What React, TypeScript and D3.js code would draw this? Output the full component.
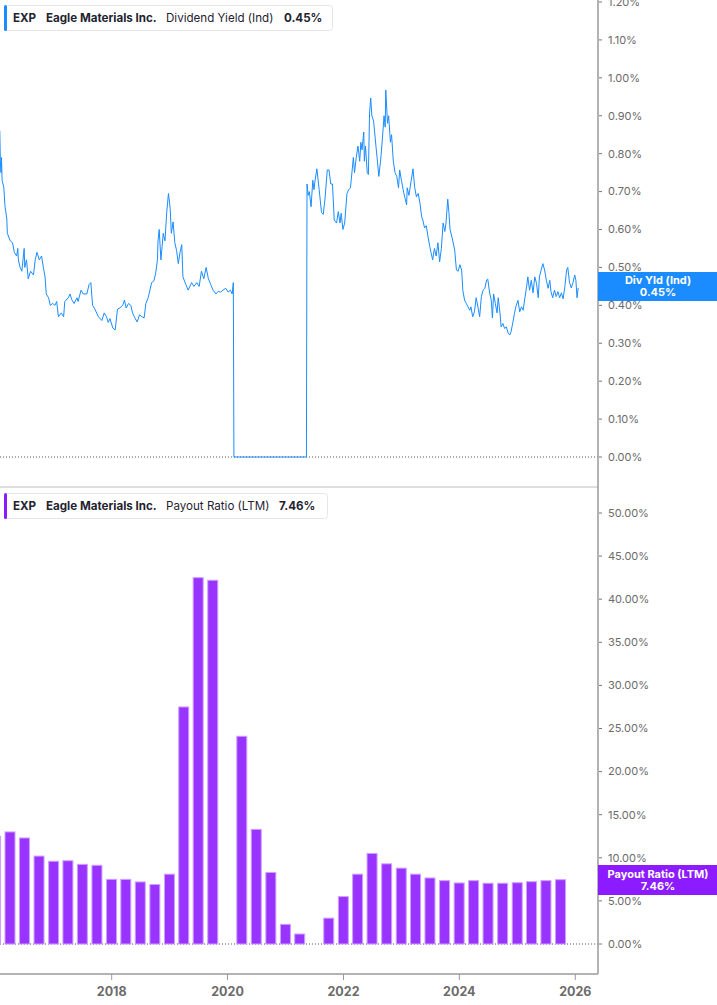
import * as d3 from "d3";

const WIDTH = 717;
const HEIGHT = 1005;
const PLOT_RIGHT = 598;
const BLUE = "#1a8cff";
const PURPLE = "#9933ff";
const PURPLE_DARK = "#8c1cff";
const FONT = "Inter, 'Noto Sans', sans-serif";

// Dividend yield (Ind), % — [decimal year, value]
const YIELD: [number, number][] = [
  [2016.07, 0.86], [2016.08, 0.78], [2016.09, 0.75], [2016.1, 0.79], [2016.11, 0.73],
  [2016.14, 0.71], [2016.16, 0.66], [2016.19, 0.63], [2016.2, 0.59], [2016.25, 0.57],
  [2016.29, 0.565], [2016.32, 0.54], [2016.36, 0.53], [2016.38, 0.55], [2016.39, 0.52],
  [2016.42, 0.5], [2016.45, 0.49], [2016.49, 0.55], [2016.5, 0.5], [2016.53, 0.52],
  [2016.56, 0.47], [2016.6, 0.49], [2016.65, 0.48], [2016.68, 0.52], [2016.71, 0.54],
  [2016.75, 0.52], [2016.79, 0.53], [2016.82, 0.5], [2016.85, 0.475], [2016.87, 0.43],
  [2016.91, 0.42], [2016.94, 0.4], [2016.98, 0.405], [2017.02, 0.4], [2017.05, 0.41],
  [2017.08, 0.37], [2017.13, 0.38], [2017.17, 0.37], [2017.19, 0.41], [2017.25, 0.42],
  [2017.28, 0.43], [2017.31, 0.415], [2017.35, 0.405], [2017.4, 0.42], [2017.42, 0.41],
  [2017.47, 0.44], [2017.51, 0.43], [2017.57, 0.43], [2017.61, 0.455], [2017.64, 0.46],
  [2017.67, 0.4], [2017.71, 0.39], [2017.77, 0.37], [2017.83, 0.36], [2017.87, 0.38],
  [2017.91, 0.37], [2017.94, 0.355], [2017.97, 0.365], [2018.02, 0.34], [2018.06, 0.335],
  [2018.1, 0.39], [2018.14, 0.393], [2018.19, 0.4], [2018.22, 0.414], [2018.25, 0.393],
  [2018.29, 0.405], [2018.33, 0.4], [2018.36, 0.38], [2018.4, 0.367], [2018.44, 0.356],
  [2018.48, 0.375], [2018.52, 0.37], [2018.56, 0.367], [2018.59, 0.405], [2018.63, 0.42],
  [2018.69, 0.46], [2018.73, 0.465], [2018.76, 0.485], [2018.79, 0.52], [2018.8, 0.57],
  [2018.82, 0.6], [2018.85, 0.52], [2018.87, 0.555], [2018.89, 0.59], [2018.92, 0.57],
  [2018.95, 0.645], [2018.98, 0.695], [2019.01, 0.655], [2019.03, 0.59], [2019.06, 0.62],
  [2019.09, 0.565], [2019.12, 0.545], [2019.15, 0.51], [2019.18, 0.54], [2019.21, 0.56],
  [2019.23, 0.475], [2019.28, 0.455], [2019.32, 0.44], [2019.38, 0.46], [2019.42, 0.45],
  [2019.47, 0.46], [2019.51, 0.45], [2019.55, 0.49], [2019.59, 0.47], [2019.63, 0.5],
  [2019.67, 0.47], [2019.71, 0.455], [2019.75, 0.44], [2019.8, 0.43], [2019.84, 0.437],
  [2019.88, 0.435], [2019.92, 0.44], [2019.97, 0.445], [2020.01, 0.435], [2020.05, 0.44],
  [2020.08, 0.43], [2020.1, 0.46], [2020.11, 0], [2021.36, 0],
  [2021.37, 0.72], [2021.39, 0.69], [2021.41, 0.7], [2021.44, 0.66], [2021.47, 0.73],
  [2021.49, 0.705], [2021.51, 0.73], [2021.54, 0.76], [2021.58, 0.705], [2021.62, 0.645],
  [2021.65, 0.64], [2021.68, 0.68], [2021.72, 0.757], [2021.75, 0.757], [2021.78, 0.72],
  [2021.81, 0.72], [2021.84, 0.625], [2021.88, 0.617], [2021.91, 0.647], [2021.94, 0.617],
  [2021.96, 0.643], [2021.99, 0.6], [2022.02, 0.617], [2022.06, 0.695], [2022.09, 0.705],
  [2022.12, 0.71], [2022.15, 0.757], [2022.17, 0.79], [2022.19, 0.75], [2022.22, 0.79],
  [2022.25, 0.82], [2022.28, 0.78], [2022.3, 0.83], [2022.32, 0.81], [2022.35, 0.857],
  [2022.36, 0.78], [2022.38, 0.82], [2022.41, 0.75], [2022.43, 0.745], [2022.45, 0.907],
  [2022.47, 0.947], [2022.49, 0.9], [2022.52, 0.886], [2022.56, 0.82], [2022.58, 0.79],
  [2022.61, 0.74], [2022.64, 0.78], [2022.67, 0.836], [2022.7, 0.9], [2022.72, 0.87],
  [2022.73, 0.968], [2022.76, 0.88], [2022.78, 0.9], [2022.81, 0.83], [2022.83, 0.85],
  [2022.86, 0.78], [2022.89, 0.75], [2022.92, 0.74], [2022.95, 0.71], [2022.97, 0.757],
  [2023.0, 0.73], [2023.04, 0.697], [2023.09, 0.665], [2023.1, 0.71], [2023.13, 0.69],
  [2023.17, 0.73], [2023.2, 0.76], [2023.23, 0.71], [2023.26, 0.686], [2023.29, 0.695],
  [2023.32, 0.67], [2023.35, 0.633], [2023.37, 0.625], [2023.4, 0.604], [2023.43, 0.61],
  [2023.46, 0.58], [2023.49, 0.555], [2023.51, 0.54], [2023.54, 0.52], [2023.57, 0.55],
  [2023.6, 0.53], [2023.63, 0.565], [2023.66, 0.515], [2023.69, 0.55], [2023.72, 0.617],
  [2023.75, 0.595], [2023.77, 0.617], [2023.8, 0.68], [2023.82, 0.645], [2023.84, 0.6],
  [2023.88, 0.575], [2023.92, 0.546], [2023.95, 0.493], [2023.98, 0.49], [2024.01, 0.507],
  [2024.04, 0.493], [2024.06, 0.44], [2024.09, 0.414], [2024.12, 0.405], [2024.15, 0.396],
  [2024.18, 0.387], [2024.2, 0.396], [2024.23, 0.37], [2024.26, 0.383], [2024.29, 0.42],
  [2024.32, 0.396], [2024.35, 0.37], [2024.38, 0.423], [2024.41, 0.44], [2024.44, 0.445],
  [2024.47, 0.467], [2024.49, 0.469], [2024.52, 0.435], [2024.55, 0.414], [2024.57, 0.367],
  [2024.59, 0.43], [2024.62, 0.405], [2024.65, 0.38], [2024.67, 0.42], [2024.7, 0.38],
  [2024.72, 0.343], [2024.75, 0.352], [2024.78, 0.339], [2024.81, 0.343], [2024.84, 0.327],
  [2024.87, 0.322], [2024.89, 0.33], [2024.92, 0.353], [2024.95, 0.379], [2024.98, 0.4],
  [2025.01, 0.413], [2025.04, 0.383], [2025.07, 0.396], [2025.1, 0.387], [2025.13, 0.42],
  [2025.16, 0.45], [2025.18, 0.475], [2025.21, 0.44], [2025.24, 0.466], [2025.27, 0.433],
  [2025.3, 0.475], [2025.33, 0.458], [2025.36, 0.42], [2025.38, 0.475], [2025.41, 0.493],
  [2025.44, 0.51], [2025.47, 0.493], [2025.5, 0.466], [2025.53, 0.445], [2025.56, 0.466],
  [2025.58, 0.436], [2025.61, 0.42], [2025.64, 0.44], [2025.67, 0.423], [2025.7, 0.436],
  [2025.73, 0.42], [2025.76, 0.433], [2025.79, 0.417], [2025.82, 0.45], [2025.85, 0.493],
  [2025.87, 0.5], [2025.9, 0.46], [2025.93, 0.446], [2025.96, 0.46], [2025.99, 0.48],
  [2026.01, 0.466], [2026.03, 0.42], [2026.05, 0.446],
];

// Payout ratio (LTM), % — quarter end dates
const QUARTERS = [
  "2015-12-31", "2016-03-31", "2016-06-30", "2016-09-30", "2016-12-31",
  "2017-03-31", "2017-06-30", "2017-09-30", "2017-12-31", "2018-03-31",
  "2018-06-30", "2018-09-30", "2018-12-31", "2019-03-31", "2019-06-30",
  "2019-09-30", "2019-12-31", "2020-03-31", "2020-06-30", "2020-09-30",
  "2020-12-31", "2021-03-31", "2021-06-30", "2021-09-30", "2021-12-31",
  "2022-03-31", "2022-06-30", "2022-09-30", "2022-12-31", "2023-03-31",
  "2023-06-30", "2023-09-30", "2023-12-31", "2024-03-31", "2024-06-30",
  "2024-09-30", "2024-12-31", "2025-03-31", "2025-06-30", "2025-09-30",
];
const PAYOUT: (number | null)[] = [
  12.5, 13.0, 12.3, 10.2, 9.6,
  9.66, 9.24, 9.13, 7.5, 7.5,
  7.2, 6.9, 8.1, 27.5, 42.5,
  42.2, null, 24.1, 13.3, 8.3,
  2.28, 1.16, null, 3.0, 5.5,
  8.1, 10.5, 9.3, 8.8, 8.1,
  7.66, 7.35, 7.08, 7.35, 7.05,
  7.05, 7.11, 7.23, 7.35, 7.46,
];

const YIELD_TICKS = d3.range(0, 1.21, 0.1);
const PAYOUT_TICKS = d3.range(0, 50.1, 5);
const YEAR_TICKS = [2018, 2020, 2022, 2024, 2026];

const yearToDate = (t: number) => {
  const y = Math.floor(t);
  const a = new Date(y, 0, 1).getTime();
  const b = new Date(y + 1, 0, 1).getTime();
  return new Date(a + (t - y) * (b - a));
};

const x = d3
  .scaleTime()
  .domain([new Date(2018, 0, 1), new Date(2026, 0, 1)])
  .range([111.7, 575.3]);
const yTop = d3.scaleLinear().domain([0, 1.2]).range([457, 2]);
const yBot = d3.scaleLinear().domain([0, 50]).range([944, 513]);

const fmt = (v: number) => `${v.toFixed(2)}%`;

function Legend({ y, color, metric, value, width }: any) {
  return (
    <g transform={`translate(4, ${y})`} fontFamily={FONT} fontSize={11.6} fill="#1f2330">
      <rect x={0.5} y={0.5} width={width} height={25} rx={3} fill="#fff" stroke="#e6e6e6" />
      <rect x={0} y={0} width={3} height={26} rx={1.5} fill={color} />
      <text x={9} y={16.5} fontWeight={700}>EXP</text>
      <text x={42} y={16.5} fontWeight={700}>Eagle Materials Inc.</text>
      <text x={162} y={16.5}>{metric}</text>
      <text x={value.x} y={16.5} fontWeight={700}>{value.text}</text>
    </g>
  );
}

export default function App() {
  const line = d3
    .line<[number, number]>()
    .x((d) => x(yearToDate(d[0])))
    .y((d) => yTop(d[1]));

  const barW = 10;
  const bars = QUARTERS.map((q, i) => ({ date: new Date(q + "T00:00:00"), v: PAYOUT[i] })).filter(
    (d) => d.v !== null
  ) as { date: Date; v: number }[];

  return (
    <svg
      width={WIDTH}
      height={HEIGHT}
      style={{ position: "absolute", left: 0, top: 0, background: "#fff" }}
      fontFamily={FONT}
    >
      <defs>
        <clipPath id="plot">
          <rect x={0} y={0} width={PLOT_RIGHT} height={HEIGHT} />
        </clipPath>
      </defs>

      {/* zero lines */}
      <line x1={0} x2={PLOT_RIGHT} y1={yTop(0)} y2={yTop(0)} stroke="#555" strokeDasharray="1,2" />
      <line x1={0} x2={PLOT_RIGHT} y1={yBot(0)} y2={yBot(0)} stroke="#555" strokeDasharray="1,2" />

      {/* yield line */}
      <g clipPath="url(#plot)">
        <path d={line(YIELD) ?? ""} fill="none" stroke={BLUE} strokeWidth={1} strokeLinejoin="round" />
      </g>

      {/* payout bars */}
      <g clipPath="url(#plot)">
        {bars.map((d, i) => (
          <rect
            key={i}
            x={x(d.date) - barW / 2}
            y={yBot(d.v)}
            width={barW}
            height={yBot(0) - yBot(d.v)}
            fill={PURPLE}
            stroke="#cf9fff"
            strokeWidth={1}
          />
        ))}
      </g>

      {/* panel separator */}
      <rect x={0} y={486} width={PLOT_RIGHT} height={2} fill="#dedede" />

      {/* right axis */}
      <line x1={PLOT_RIGHT} x2={PLOT_RIGHT} y1={0} y2={974} stroke="#9a9a9a" strokeWidth={1.5} />
      {YIELD_TICKS.map((t) => (
        <g key={"yt" + t} transform={`translate(${PLOT_RIGHT}, ${yTop(t)})`}>
          <line x1={1} x2={4} stroke="#777" />
          <text x={10} dy="0.35em" fontSize={11} fill="#6b6b6b">
            {fmt(t)}
          </text>
        </g>
      ))}
      {PAYOUT_TICKS.map((t) => (
        <g key={"pt" + t} transform={`translate(${PLOT_RIGHT}, ${yBot(t)})`}>
          <line x1={1} x2={4} stroke="#777" />
          <text x={10} dy="0.35em" fontSize={11} fill="#6b6b6b">
            {fmt(t)}
          </text>
        </g>
      ))}

      {/* x axis */}
      <line x1={0} x2={PLOT_RIGHT} y1={974} y2={974} stroke="#9a9a9a" strokeWidth={1.5} />
      {YEAR_TICKS.map((yr) => {
        const px = x(new Date(yr, 0, 1));
        return (
          <g key={yr} transform={`translate(${px}, 974)`}>
            <line y1={0} y2={6} stroke="#9a9a9a" />
            <text y={22} textAnchor="middle" fontSize={12.5} fontWeight={700} fill="#6b6b6b">
              {yr}
            </text>
          </g>
        );
      })}

      {/* last value labels */}
      <g fontSize={11} fontWeight={700} fill="#fff" textAnchor="middle">
        <rect x={PLOT_RIGHT} y={272} width={WIDTH - PLOT_RIGHT} height={29} fill={BLUE} />
        <text x={658} y={284}>Div Yld (Ind)</text>
        <text x={658} y={296}>0.45%</text>
        <rect x={PLOT_RIGHT} y={865} width={WIDTH - PLOT_RIGHT} height={30} fill={PURPLE_DARK} />
        <text x={658} y={878}>Payout Ratio (LTM)</text>
        <text x={658} y={890}>7.46%</text>
      </g>

      <Legend y={5} color={BLUE} metric="Dividend Yield (Ind)" value={{ x: 280, text: "0.45%" }} width={328} />
      <Legend y={493} color={PURPLE_DARK} metric="Payout Ratio (LTM)" value={{ x: 275, text: "7.46%" }} width={323} />
    </svg>
  );
}
